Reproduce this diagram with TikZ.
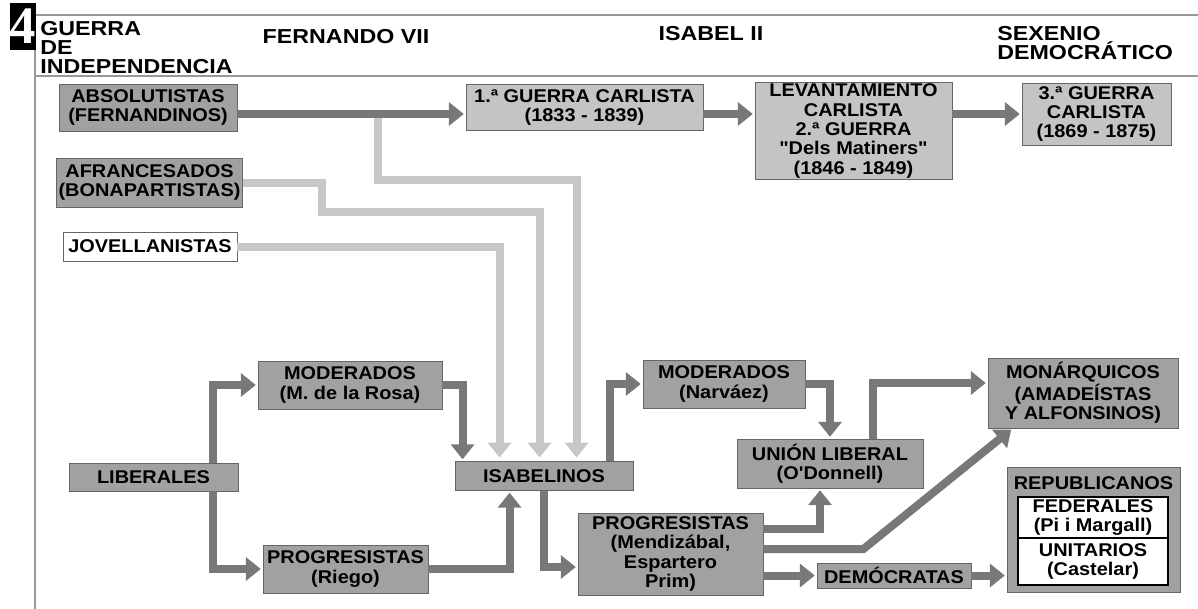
\documentclass[tikz,border=0pt]{standalone}
\usepackage{fontspec}
\usepackage{tikz}
\usetikzlibrary{arrows.meta}
\newfontfamily\boxfont{Liberation Sans}[FakeStretch=1.08]
\newfontfamily\hdrfont{Liberation Sans}[FakeStretch=1.15]
\newfontfamily\numfont{Liberation Serif}
\definecolor{boxdark}{gray}{0.63}
\definecolor{boxlight}{gray}{0.77}
\definecolor{arrdark}{gray}{0.47}
\definecolor{arrlight}{gray}{0.78}
\definecolor{rulegray}{gray}{0.6}

\begin{document}
\begin{tikzpicture}[x=0.02cm,y=-0.02cm,
  box/.style={draw=gray!80!black,line width=0.5pt,inner sep=1pt,align=center,
    font=\boxfont\bfseries\fontsize{10.5}{11}\selectfont},
  dbox/.style={box,fill=boxdark},
  lbox/.style={box,fill=boxlight},
  wbox/.style={box,fill=white},
  hdr/.style={inner sep=0pt,font=\hdrfont\bfseries\fontsize{11.5}{10.8}\selectfont},
  darr/.style={draw=arrdark,line width=0.16cm,shorten >=1pt,-{Triangle[width=0.46cm,length=0.3cm]}},
  larr/.style={draw=arrlight,line width=0.16cm,shorten >=2pt,-{Triangle[width=0.46cm,length=0.3cm]}}]
\useasboundingbox (0,0) rectangle (1198,609);

% header
\draw[draw=rulegray,line width=0.6pt] (35,15) -- (1198,15);
\draw[draw=rulegray,line width=0.6pt] (35,76) -- (1198,76);
\draw[draw=rulegray,line width=0.6pt] (35,15) -- (35,609);
\node (num) [fill=black,text=white,minimum width=0.46cm,minimum height=0.94cm,inner sep=0pt,
  font=\numfont\bfseries\fontsize{30}{30}\selectfont] at (23,26.5) {4};
\node (hgi) [hdr,anchor=west,align=left] at (40,48) {GUERRA\\DE\\INDEPENDENCIA};
\node (hfe) [hdr] at (346,37) {FERNANDO VII};
\node (his) [hdr] at (711,34) {ISABEL II};
\node (hse) [hdr,anchor=west,align=left] at (997,43) {SEXENIO\\DEMOCRÁTICO};

% upper part
\node (abs) [dbox,minimum width=3.56cm,minimum height=0.94cm] at (148,107.5) {ABSOLUTISTAS\\(FERNANDINOS)};
\node (afr) [dbox,minimum width=3.58cm,minimum height=0.98cm] at (149.5,182.5) {AFRANCESADOS\\(BONAPARTISTAS)};
\node (jov) [wbox,minimum width=3.48cm,minimum height=0.58cm] at (150,246.5) {JOVELLANISTAS};
\node (gc1) [lbox,minimum width=4.74cm,minimum height=0.92cm] at (584.5,107.5) {1.ª GUERRA CARLISTA\\(1833 - 1839)};
\node (lev) [lbox,minimum width=3.94cm,minimum height=1.92cm] at (853.5,131) {LEVANTAMIENTO\\CARLISTA\\2.ª GUERRA\\"Dels Matiners"\\(1846 - 1849)};
\node (gc3) [lbox,minimum width=2.98cm,minimum height=1.24cm] at (1096.5,114) {3.ª GUERRA\\CARLISTA\\(1869 - 1875)};

% lower part
\node (lib) [dbox,minimum width=3.38cm,minimum height=0.56cm] at (153.5,477) {LIBERALES};
\node (modr) [dbox,minimum width=3.68cm,minimum height=0.96cm] at (350,385) {MODERADOS\\(M. de la Rosa)};
\node (progr) [dbox,minimum width=3.30cm,minimum height=0.96cm] at (345.5,569) {PROGRESISTAS\\(Riego)};
\node (isa) [dbox,minimum width=3.56cm,minimum height=0.58cm] at (544,476) {ISABELINOS};
\node (modn) [dbox,minimum width=3.24cm,minimum height=0.96cm] at (724,384) {MODERADOS\\(Narváez)};
\node (union) [dbox,minimum width=3.72cm,minimum height=0.98cm] at (830,463.5) {UNIÓN LIBERAL\\(O'Donnell)};
\node (progm) [dbox,minimum width=3.70cm,minimum height=1.64cm] at (670.5,554) {PROGRESISTAS\\(Mendizábal,\\Espartero\\Prim)};
\node (dem) [dbox,minimum width=3.08cm,minimum height=0.5cm] at (894,575.5) {DEMÓCRATAS};
\node (mon) [dbox,minimum width=3.80cm,minimum height=1.40cm] at (1083,393) {MONÁRQUICOS\\(AMADEÍSTAS\\Y ALFONSINOS)};
\node (rep) [dbox,minimum width=3.46cm,minimum height=2.5cm] at (1093.5,529.5) {};
\node (reptit) [box,draw=none,inner sep=0pt] at (1093.5,483) {REPUBLICANOS};
\node (fed) [wbox,draw=black,line width=0.7pt,minimum width=3.0cm,minimum height=0.82cm] at (1093,517.5) {FEDERALES\\(Pi i Margall)};
\node (uni) [wbox,draw=black,line width=0.7pt,minimum width=3.0cm,minimum height=0.94cm] at (1093,561.5) {UNITARIOS\\(Castelar)};

% light arrows towards ISABELINOS
\coordinate (t1) at ([yshift=-0.13cm]abs.east);
\coordinate (m1) at (378,180);
\coordinate (m2) at (322,212);
\draw[larr] (t1 -| m1) -- (m1) -| ([xshift=2.44cm]isa.north west);
\draw[larr] (afr.east) -| (m2) -| ([xshift=1.7cm]isa.north west);
\draw[larr] (jov.east) -| ([xshift=0.9cm]isa.north west);

% dark arrows
\draw[darr] (t1) -- (t1 -| gc1.west);
\draw[darr] (t1 -| gc1.east) -- (t1 -| lev.west);
\draw[darr] (lev.east |- gc3.west) -- (gc3.west);
\draw[darr] ([xshift=-0.5cm]lib.north east) |- (modr.west);
\draw[darr] ([xshift=-0.5cm]lib.south east) |- (progr.west);
\draw[darr] (modr.east) -| ([xshift=0.16cm]isa.north west);
\draw[darr] (progr.east) -| ([xshift=1.1cm]isa.south west);
\draw[darr] ([xshift=-0.46cm]isa.north east) |- (modn.west);
\draw[darr] (isa.south) |- ([yshift=-0.26cm]progm.west);
\draw[darr] (modn.east) -| (union.north);
\draw[darr] ([xshift=-1cm]union.north east) |- ([yshift=0.2cm]mon.west);
\draw[darr] ([yshift=0.5cm]progm.east) -| ([xshift=-0.2cm]union.south);
\draw[darr] ([yshift=0.1cm]progm.east) -- ++(2cm,0) -- ([xshift=0.5cm]mon.south west);
\draw[darr] (progm.east |- dem.west) -- (dem.west);
\draw[darr] (dem.east) -- (dem.east -| rep.west);
\end{tikzpicture}
\end{document}
